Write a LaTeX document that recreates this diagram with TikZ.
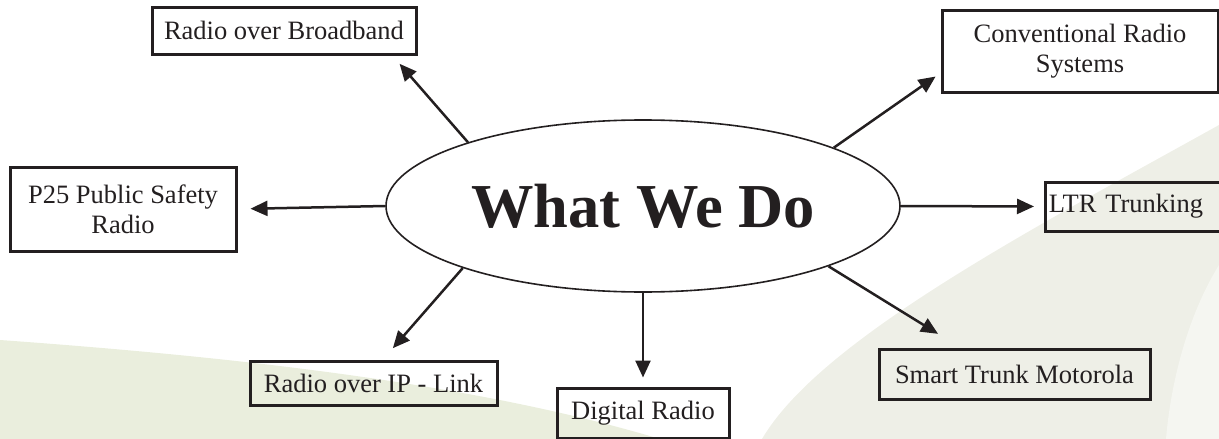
\documentclass[tikz,border=0pt]{standalone}
\usepackage{fontspec}
\setmainfont{Liberation Serif}
\usepackage{tikz}
\usepackage{xcolor}
\usetikzlibrary{shapes.geometric, arrows.meta}
\definecolor{sage}{HTML}{EAEEDD}
\definecolor{mist}{HTML}{EEEFE7}
\definecolor{paper}{HTML}{F5F6F1}
\definecolor{ink}{HTML}{231F20}
\tikzstyle{block} = [
    rectangle, draw=ink, line width=3pt, text=ink,
    font=\fontsize{26.5}{30}\selectfont, text centered
]
\tikzstyle{hub} = [
    ellipse, draw=ink, line width=1.6pt, fill=white, text=ink,
    minimum width=514pt, minimum height=172pt,
    font=\fontsize{62.5}{70}\selectfont\bfseries
]
\tikzstyle{arrow} = [line width=2.5pt, draw=ink, -{Triangle[length=17pt,width=15pt]}]

\begin{document}
\begin{tikzpicture}[x=1pt, y=-1pt]
            \useasboundingbox (0,0) rectangle (1219,439);
            \fill [sage] (0,340) .. controls (250,358) and (480,385) .. (660,439)
                            -- (0,439) -- cycle;
            \fill [mist] (1219,125) .. controls (1030,230) and (820,340) .. (762,439)
                            -- (1219,439) -- cycle;
            \fill [paper] (1219,265) .. controls (1185,320) and (1170,390) .. (1166,439)
                            -- (1219,439) -- cycle;

            \node (what) [hub] at (643,206) {What We Do};

            \node (broadband) [block, minimum width=264pt, minimum height=47pt]
                            at (284,30.5) {Radio over Broadband};
            \node (p25) [block, minimum width=226pt, minimum height=84pt, align=center]
                            at (123,209) {P25 Public Safety\\Radio};
            \node (conv) [block, minimum width=276pt, minimum height=82pt, align=center]
                            at (1080,51) {Conventional Radio\\Systems};
            \node (ltr) [block, anchor=west, minimum height=49pt, text width=190pt,
                            align=left] at (1044,206.5) {LTR Trunking};
            \node (smart) [block, minimum width=271pt, minimum height=50pt]
                            at (1014.5,374) {Smart Trunk Motorola};
            \node (ip) [block, minimum width=247pt, minimum height=44pt]
                            at (373.5,383) {Radio over IP - Link};
            \node (digital) [block, minimum width=172pt, minimum height=50pt]
                            at (643,413) {Digital Radio};

            \draw [arrow, shorten >=11pt] (what.160) -- (broadband.-13);
            \draw [arrow, shorten >=6pt] (what.17) -- (conv.-171);
            \draw [arrow, shorten >=10pt] (what.east) -- (ltr.west);
            \draw [arrow, shorten >=26pt] (what.-18) -- (smart.154);
            \draw [arrow, shorten >=9pt] (what.south) -- (digital.north);
            \draw [arrow, shorten >=15pt] (what.199) -- (ip.68);
            \draw [arrow, shorten >=13pt] (what.west) -- (p25.east);
        \end{tikzpicture}
\end{document}
